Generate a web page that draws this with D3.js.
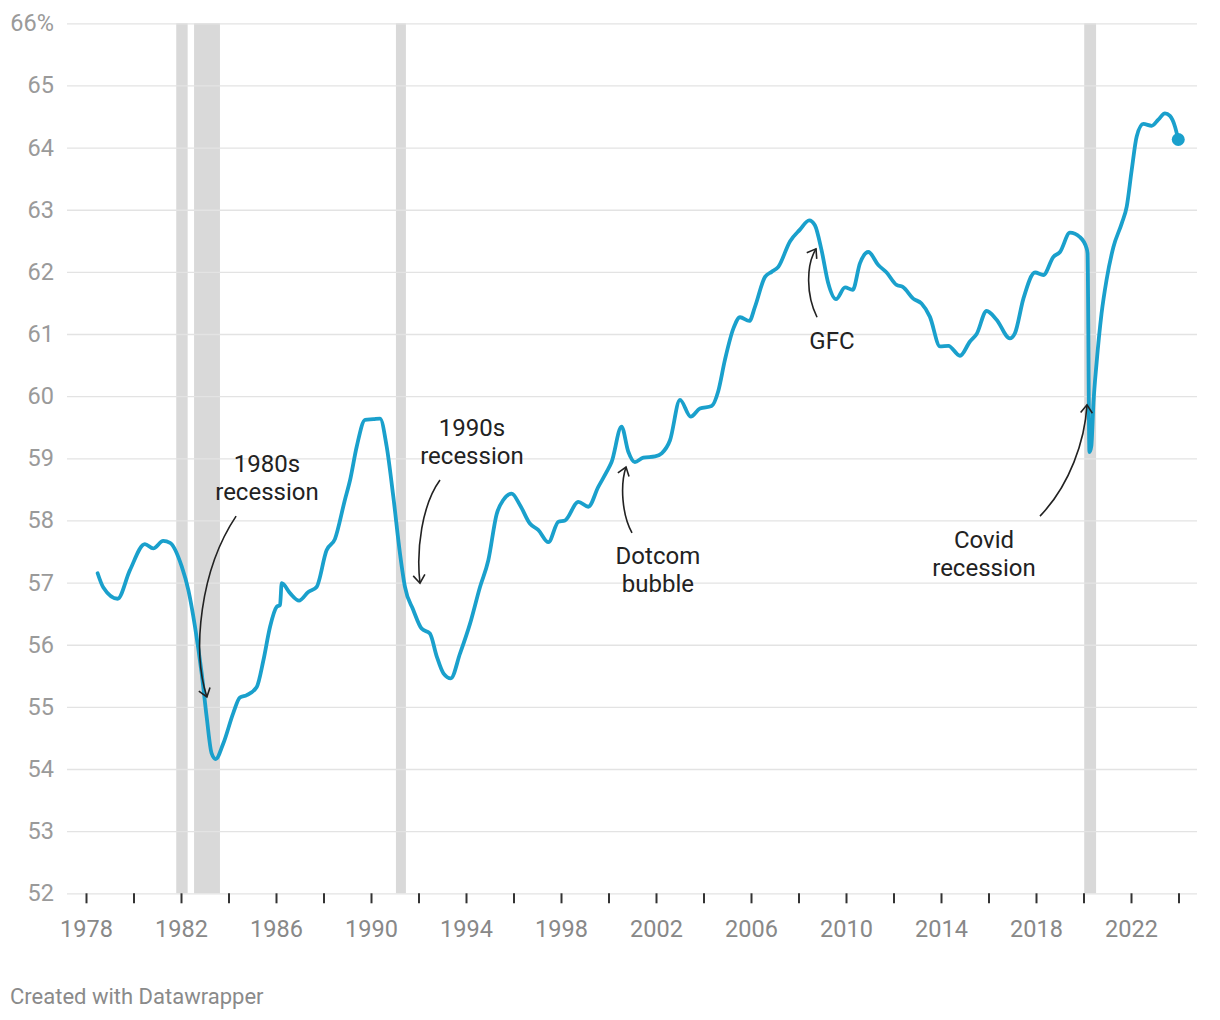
<!DOCTYPE html>
<html><head><meta charset="utf-8">
<script src="https://cdn.jsdelivr.net/npm/d3@7"></script>
<style>body{margin:0;background:#fff;font-family:Roboto,"Noto Sans",sans-serif}</style>
</head><body><svg id="c" width="1220" height="1020"></svg>
<script>
// ---- data ----
const dates = [1978.49,1978.73,1979.33,1979.85,1980.48,1980.83,1981.25,1981.54,1982.03,1982.31,1982.59,1982.87,1983.08,1983.29,1983.46,1983.78,1984.20,1984.48,1984.77,1985.19,1985.47,1985.75,1986.03,1986.17,1986.24,1986.59,1986.97,1987.36,1987.71,1988.13,1988.48,1988.90,1989.12,1989.40,1989.75,1990.10,1990.38,1990.66,1990.94,1991.22,1991.43,1991.78,1992.13,1992.48,1992.77,1993.05,1993.36,1993.75,1994.17,1994.59,1994.94,1995.29,1995.57,1995.92,1996.27,1996.69,1997.04,1997.47,1997.89,1998.17,1998.73,1999.15,1999.57,1999.92,2000.13,2000.55,2000.83,2001.11,2001.47,2001.96,2002.24,2002.59,2003.01,2003.46,2003.85,2004.34,2004.62,2004.90,2005.26,2005.54,2005.93,2006.17,2006.59,2006.87,2007.15,2007.64,2008.06,2008.45,2008.69,2008.97,2009.25,2009.58,2009.96,2010.28,2010.59,2010.94,2011.36,2011.71,2012.13,2012.39,2012.83,2013.18,2013.53,2013.96,2014.31,2014.80,2015.22,2015.50,2015.92,2016.34,2016.90,2017.11,2017.47,2017.96,2018.31,2018.73,2019.01,2019.43,2019.85,2020.13,2020.17,2020.25,2020.33,2020.42,2020.55,2020.76,2020.97,2021.26,2021.61,2021.82,2022.03,2022.24,2022.52,2022.87,2023.15,2023.43,2023.64,2023.85,2023.99];
const values = [57.15,56.92,56.74,57.20,57.62,57.55,57.67,57.64,57.26,56.88,56.29,55.54,54.84,54.25,54.16,54.41,54.90,55.15,55.19,55.32,55.75,56.29,56.61,56.64,56.99,56.83,56.71,56.85,56.93,57.52,57.70,58.33,58.65,59.19,59.62,59.63,59.64,59.19,58.38,57.47,56.93,56.56,56.26,56.18,55.81,55.54,55.46,55.86,56.34,56.93,57.36,58.10,58.33,58.43,58.25,57.95,57.85,57.65,57.98,58.00,58.30,58.22,58.54,58.78,58.94,59.51,59.11,58.94,59.01,59.03,59.08,59.29,59.94,59.67,59.80,59.84,60.08,60.58,61.09,61.27,61.21,61.44,61.92,62.00,62.08,62.49,62.68,62.83,62.75,62.35,61.82,61.56,61.75,61.71,62.14,62.32,62.11,61.99,61.79,61.76,61.57,61.49,61.28,60.80,60.81,60.65,60.88,61.00,61.37,61.23,60.93,61.01,61.57,61.99,61.95,62.24,62.32,62.63,62.56,62.38,62.30,59.10,59.20,59.90,60.53,61.33,61.87,62.40,62.78,63.05,63.64,64.18,64.38,64.35,64.45,64.55,64.51,64.34,64.13];
const yTicks = [52,53,54,55,56,57,58,59,60,61,62,63,64,65,66];
const yTickLabels = ["52","53","54","55","56","57","58","59","60","61","62","63","64","65","66%"];
const xTicks = [1978,1980,1982,1984,1986,1988,1990,1992,1994,1996,1998,2000,2002,2004,2006,2008,2010,2012,2014,2016,2018,2020,2022,2024];
const xTickLabels = ["1978","1982","1986","1990","1994","1998","2002","2006","2010","2014","2018","2022"];
const recessionStart = [1981.80,1982.55,1991.05,2020.03];
const recessionEnd   = [1982.28,1983.64,1991.47,2020.53];
// annotations: text lines, text anchor (year,value), arrow bezier points (year,value)
const annoText = [["1980s","recession"],["1990s","recession"],["Dotcom","bubble"],["GFC"],["Covid","recession"]];
const annoPos = [[1985.62,58.91],[1994.25,59.49],[2002.08,57.43],[2009.41,60.90],[2015.81,57.685]];
const annoArrow = [
  [[1984.32,58.07],[1982.80,57.20],[1982.46,55.91],[1983.09,55.16]],
  [[1992.905,58.65],[1992.147,58.25],[1991.895,57.53],[1992.063,56.99]],
  [[2000.99,57.80],[2000.568,58.09],[2000.484,58.57],[2000.737,58.86]],
  [[2008.78,61.27],[2008.316,61.63],[2008.316,62.11],[2008.737,62.37]],
  [[2018.168,58.07],[2019.43,58.57],[2020.06,59.29],[2020.147,59.86]]
];

// ---- chart ----
const svg = d3.select("#c");
const x = d3.scaleLinear().domain([1978,2024]).range([86,1178.5]);
const y = d3.scaleLinear().domain([52,66]).range([893.3,23.3]);
const gridL = 67, gridR = 1197;

// recession bands
svg.append("g").selectAll("rect").data(recessionStart).join("rect")
  .attr("x",(d)=>x(d)).attr("width",(d,i)=>x(recessionEnd[i])-x(d))
  .attr("y",y(66)).attr("height",y(52)-y(66)).attr("fill","#d9d9d9");

// gridlines
const yAxis = d3.axisLeft(y).tickValues(yTicks).tickSize(-(gridR-gridL)).tickFormat((d,i)=>yTickLabels[i]).tickPadding(12);
const gy = svg.append("g").attr("transform",`translate(${gridL},0)`).call(yAxis);
gy.select(".domain").remove();
gy.selectAll(".tick line").attr("stroke","#e3e3e3").attr("stroke-width",1.3);
gy.selectAll(".tick text").attr("fill","#9a9a9a").attr("font-size",23.5).attr("font-family","Roboto").attr("x",-13);

// x axis
const xAxis = d3.axisBottom(x).tickValues(xTicks).tickSize(10).tickFormat(d=>xTickLabels.includes(String(d))?String(d):"").tickPadding(17);
const gx = svg.append("g").attr("transform",`translate(0,${y(52)})`).call(xAxis);
gx.select(".domain").remove();
gx.selectAll(".tick line").attr("stroke","#333").attr("stroke-width",2);
gx.selectAll(".tick text").attr("fill","#888").attr("font-size",23.5).attr("font-family","Roboto");

// line
const pts = dates.map((d,i)=>[d,values[i]]);
const line = d3.line().x(d=>x(d[0])).y(d=>y(d[1])).curve(d3.curveMonotoneX);
svg.append("path").datum(pts).attr("d",line).attr("fill","none")
  .attr("stroke","#1aa0cc").attr("stroke-width",3.8).attr("stroke-linejoin","round").attr("stroke-linecap","round");
const last = pts[pts.length-1];
svg.append("circle").attr("cx",x(last[0])).attr("cy",y(last[1])).attr("r",6.5).attr("fill","#1aa0cc");

// annotations
const ag = svg.append("g");
annoArrow.forEach((a,i)=>{
  const p = a.map(q=>[x(q[0]),y(q[1])]);
  const path = d3.path();
  path.moveTo(p[0][0],p[0][1]);
  path.bezierCurveTo(p[1][0],p[1][1],p[2][0],p[2][1],p[3][0],p[3][1]);
  ag.append("path").attr("d",path.toString()).attr("fill","none").attr("stroke","#222").attr("stroke-width",1.6);
  const ang = Math.atan2(p[3][1]-p[2][1],p[3][0]-p[2][0]);
  const L = 10, spread = Math.PI/5;
  const h = d3.path();
  h.moveTo(p[3][0]-L*Math.cos(ang-spread),p[3][1]-L*Math.sin(ang-spread));
  h.lineTo(p[3][0],p[3][1]);
  h.lineTo(p[3][0]-L*Math.cos(ang+spread),p[3][1]-L*Math.sin(ang+spread));
  ag.append("path").attr("d",h.toString()).attr("fill","none").attr("stroke","#222").attr("stroke-width",1.6);
});
annoText.forEach((lines,i)=>{
  const t = ag.append("text").attr("text-anchor","middle").attr("font-size",24).attr("fill","#222").attr("font-family","Roboto");
  lines.forEach((s,j)=>{
    t.append("tspan").attr("x",x(annoPos[i][0])).attr("y",y(annoPos[i][1])+j*28).attr("dy","0.35em").text(s);
  });
});

svg.append("text").attr("x",10).attr("y",1004).attr("font-size",22).attr("fill","#8a8a8a").attr("font-family","Roboto").text("Created with Datawrapper");
</script></body></html>
